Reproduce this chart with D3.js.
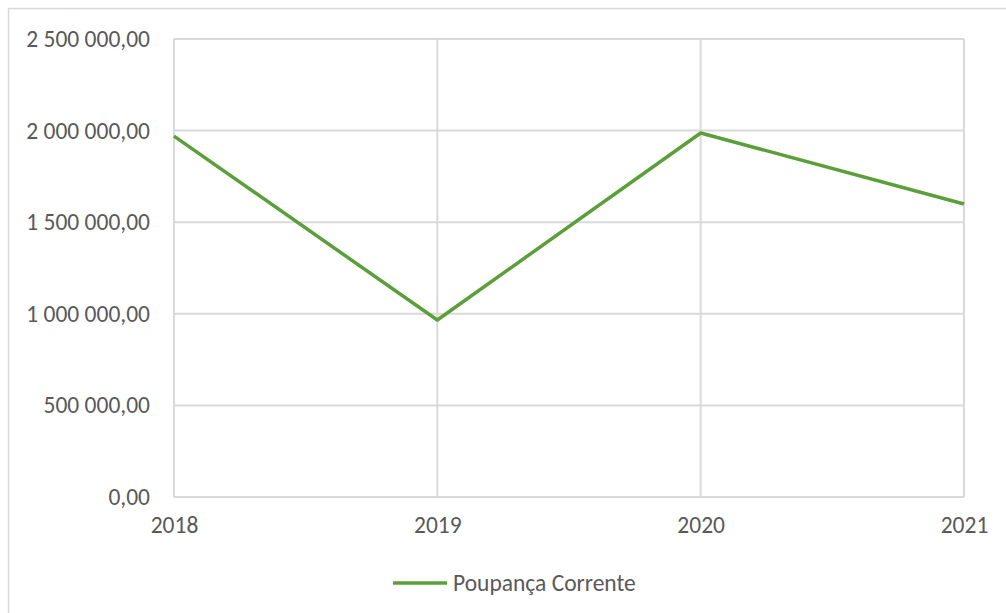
<!DOCTYPE html>
<html>
<head>
<meta charset="utf-8">
<script src="https://cdn.jsdelivr.net/npm/d3@7"></script>
<style>
  body { margin: 0; background: #fff; }
  text { font-family: Carlito, "Open Sans", Lato, sans-serif; fill: #595959; }
</style>
</head>
<body>
<script>
//Width and height
var w = 1006;
var h = 613;

var years = ["2018", "2019", "2020", "2021"];
var poupanca = [1970000, 966000, 1987000, 1599000];
var yTicks = [0, 500000, 1000000, 1500000, 2000000, 2500000];
var seriesName = "Poupança Corrente";

var margin = { top: 39, left: 174, right: 42, bottom: 116 };
var fontSize = "23.5px";

var xScale = d3
  .scalePoint()
  .domain(years)
  .range([margin.left, w - margin.right]);

var yScale = d3
  .scaleLinear()
  .domain([0, 2500000])
  .range([h - margin.bottom, margin.top]);

var fmt = function (d) {
  var s = d3.format(",.2f")(d);
  return s.replace(/,/g, " ").replace(".", ",");
};

var svg = d3.select("body").append("svg").attr("width", w).attr("height", h);

//Chart frame
svg
  .append("rect")
  .attr("x", 8.5)
  .attr("y", 8.5)
  .attr("width", w + 10)
  .attr("height", h + 10)
  .attr("fill", "none")
  .attr("stroke", "#d9d9d9")
  .attr("stroke-width", 1.5);

//Horizontal gridlines
svg
  .append("g")
  .selectAll("line")
  .data(yTicks)
  .enter()
  .append("line")
  .attr("x1", margin.left)
  .attr("x2", w - margin.right)
  .attr("y1", function (d) { return yScale(d); })
  .attr("y2", function (d) { return yScale(d); })
  .attr("stroke", "#d9d9d9")
  .attr("stroke-width", 2);

//Vertical gridlines
svg
  .append("g")
  .selectAll("line")
  .data(years)
  .enter()
  .append("line")
  .attr("x1", function (d) { return xScale(d); })
  .attr("x2", function (d) { return xScale(d); })
  .attr("y1", yScale(2500000))
  .attr("y2", yScale(0))
  .attr("stroke", "#d9d9d9")
  .attr("stroke-width", 2);

//Y axis labels
var yAxis = d3.axisLeft(yScale).tickValues(yTicks).tickFormat(fmt).tickSize(0).tickPadding(24);
var gy = svg.append("g").attr("transform", "translate(" + margin.left + ",0)").call(yAxis);
gy.select(".domain").remove();
gy.attr("font-family", null).attr("font-size", null);
gy.selectAll("text").style("font-size", fontSize).attr("fill", "#595959");

//X axis labels
var xAxis = d3.axisBottom(xScale).tickSize(0).tickPadding(19);
var gx = svg.append("g").attr("transform", "translate(0," + yScale(0) + ")").call(xAxis);
gx.select(".domain").remove();
gx.attr("font-family", null).attr("font-size", null);
gx.selectAll("text").style("font-size", fontSize).attr("fill", "#595959");

//Line
var line = d3
  .line()
  .x(function (d, i) { return xScale(years[i]); })
  .y(function (d) { return yScale(d); });

svg
  .append("path")
  .datum(poupanca)
  .attr("d", line)
  .attr("fill", "none")
  .attr("stroke", "#5b9f3a")
  .attr("stroke-width", 3.5)
  .attr("stroke-linejoin", "round");

//Legend
var legend = svg.append("g").attr("transform", "translate(393,583)");
legend
  .append("line")
  .attr("x1", 0)
  .attr("x2", 54)
  .attr("stroke", "#5b9f3a")
  .attr("stroke-width", 3.5);
legend
  .append("text")
  .attr("x", 60)
  .attr("y", 8)
  .style("font-size", fontSize)
  .text(seriesName);
</script>
</body>
</html>
